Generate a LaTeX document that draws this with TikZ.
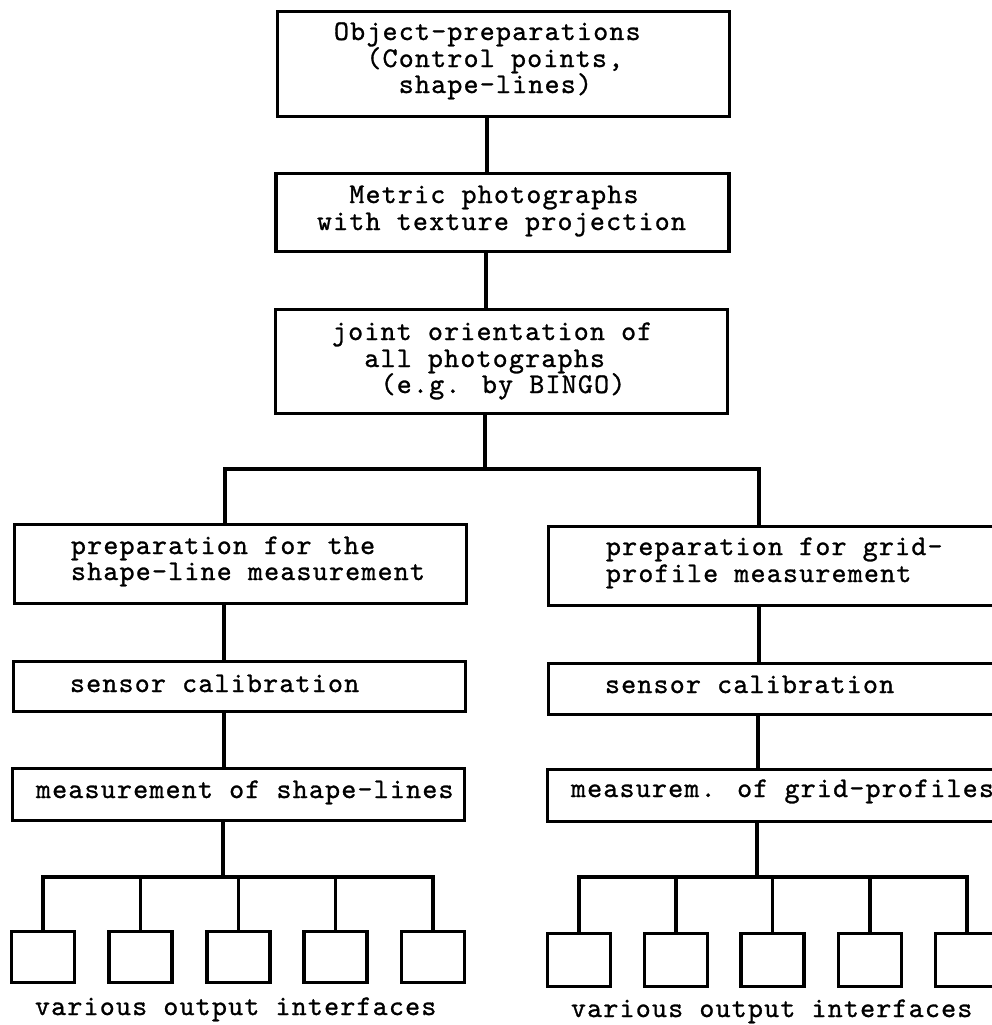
\documentclass[tikz,border=0pt]{standalone}
\usepackage{fontspec}
\newfontfamily\cour{lmmono10-regular.otf}[LetterSpace=4.35,FakeBold=1]
\begin{document}
\begin{tikzpicture}[x=1pt,y=-1pt,
  box/.style={draw,line width=3.2pt,rectangle,inner sep=0pt,outer sep=0pt,anchor=north west},
  obox/.style={box,minimum width=63pt},
  txt/.style={anchor=base west,inner sep=0pt,outer sep=0pt,font=\cour\fontsize{28.5}{28.5}\selectfont},
  conn/.style={line width=3.2pt}]
\useasboundingbox (0,0) rectangle (992,1025);
\fill[white] (0,0) rectangle (992,1025);
\clip (0,0) rectangle (992,1025);
% main column
\node[box,minimum width=452pt,minimum height=105pt] (b1) at (277.5,11.5) {};
\node[box,minimum width=453pt,minimum height=78pt] (b2) at (276,173.5) {};
\node[box,minimum width=452pt,minimum height=104pt] (b3) at (275.5,309.5) {};
% left column
\node[box,minimum width=452pt,minimum height=79pt] (L1) at (14.5,524.5) {};
\node[box,minimum width=452pt,minimum height=50pt] (L2) at (13.5,661.5) {};
\node[box,minimum width=452pt,minimum height=52pt] (L3) at (12.5,768.5) {};
% right column
\node[box,minimum width=455pt,minimum height=79pt] (R1) at (548.5,526.5) {};
\node[box,minimum width=455pt,minimum height=51pt] (R2) at (548.5,663.5) {};
\node[box,minimum width=455pt,minimum height=52pt] (R3) at (547.5,769.5) {};
% output boxes
\node[obox,minimum height=51pt] (s1) at (11.5,931.5) {};
\node[obox,minimum height=51pt] (s2) at (109,931.5) {};
\node[obox,minimum height=51pt] (s3) at (207,931.5) {};
\node[obox,minimum height=51pt] (s4) at (304,931.5) {};
\node[obox,minimum height=51pt] (s5) at (401.5,931.5) {};
\node[obox,minimum height=53pt] (r1) at (547.5,933.5) {};
\node[obox,minimum height=53pt] (r2) at (644.5,933.5) {};
\node[obox,minimum height=53pt] (r3) at (741,933.5) {};
\node[obox,minimum height=53pt] (r4) at (838.5,933.5) {};
\node[obox,minimum height=53pt] (r5) at (935.5,933.5) {};
% texts
\node[txt] (t1a) at (334,40) {Object-preparations};
\node[txt] (t1b) at (366.4,67) {(Control points,};
\node[txt] (t1c) at (398.8,93) {shape-lines)};
\node[txt] (t2a) at (349.4,203) {Metric photographs};
\node[txt] (t2b) at (317,230) {with texture projection};
\node[txt] (t3a) at (332,340) {joint orientation of};
\node[txt] (t3b) at (364.4,367) {all photographs};
\node[txt] (t3c) at (380.6,393) {(e.g. by BINGO)};
\node[txt] (tl1a) at (71,554) {preparation for the};
\node[txt] (tl1b) at (71,580) {shape-line measurement};
\node[txt] (tl2) at (70,692) {sensor calibration};
\node[txt] (tl3) at (36,798) {measurement of shape-lines};
\node[txt] (tl4) at (35,1015) {various output interfaces};
\node[txt] (tr1a) at (606,555) {preparation for grid-};
\node[txt] (tr1b) at (606,582) {profile measurement};
\node[txt] (tr2) at (605,693) {sensor calibration};
\node[txt] (tr3) at (571,797) {measurem. of grid-profiles};
\node[txt] (tr4) at (571,1017) {various output interfaces};
% connector coordinates
\coordinate (x12) at (487,0);
\coordinate (x23) at (486,0);
\coordinate (J) at (485,469);
\coordinate (JL) at (225,469);
\coordinate (JR) at (759,469);
\coordinate (xl12) at (224,0);
\coordinate (xr12) at (759,0);
\coordinate (xr23) at (758,0);
\coordinate (HL) at (223,877);
\coordinate (HR) at (757,877);
% connectors
\draw[conn] (b1.south -| x12) -- (b2.north -| x12);
\draw[conn] (b2.south -| x23) -- (b3.north -| x23);
\draw[conn] (b3.south -| J) -- (J);
\draw[conn] (L1.north -| JL) -- (JL) -- (JR) -- (R1.north -| JR);
\draw[conn] (L1.south -| xl12) -- (L2.north -| xl12);
\draw[conn] (L2.south -| xl12) -- (L3.north -| xl12);
\draw[conn] (L3.south -| HL) -- (HL);
\draw[conn] (s1.north) |- (HL) -| (s5.north);
\draw[conn] (s2.north) -- (s2.north |- HL);
\draw[conn] (s3.north) -- (s3.north |- HL);
\draw[conn] (s4.north) -- (s4.north |- HL);
\draw[conn] (R1.south -| xr12) -- (R2.north -| xr12);
\draw[conn] (R2.south -| xr23) -- (R3.north -| xr23);
\draw[conn] (R3.south -| HR) -- (HR);
\draw[conn] (r1.north) |- (HR) -| (r5.north);
\draw[conn] (r2.north) -- (r2.north |- HR);
\draw[conn] (r3.north) -- (r3.north |- HR);
\draw[conn] (r4.north) -- (r4.north |- HR);
\end{tikzpicture}
\end{document}
